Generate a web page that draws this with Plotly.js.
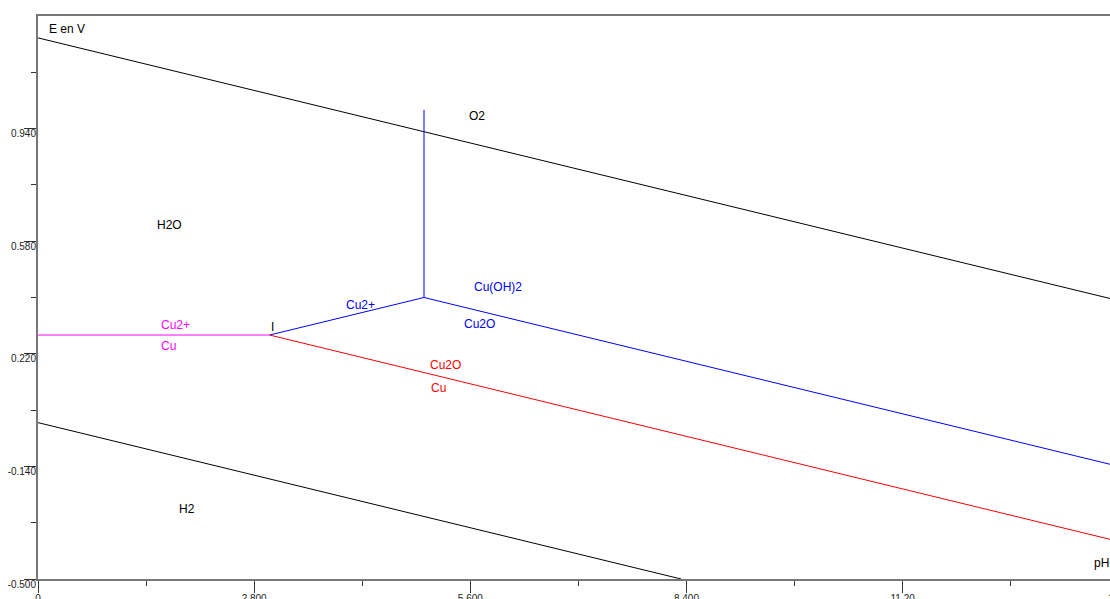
<!DOCTYPE html>
<html>
<head>
<meta charset="utf-8">
<script src="https://cdn.plot.ly/plotly-3.0.1.min.js"></script>
<style>html,body{margin:0;padding:0;background:#fff;}#chart{width:1110px;height:599px;}</style>
</head>
<body>
<div id="chart"></div>
<script>
// Boundary lines of the Pourbaix (E-pH) diagram of copper
const phO2 = [0, 14];            const eO2 = [1.23, 0.39];        // O2 / H2O
const phH2 = [0, 8.33];          const eH2 = [0.0, -0.5];         // H2O / H2
const phCu2Cu = [0, 3.0];        const eCu2Cu = [0.28, 0.28];     // Cu2+ / Cu
const phCu2Cu2O = [3.0, 5.0];    const eCu2Cu2O = [0.28, 0.40];   // Cu2+ / Cu2O
const phCu2CuOH = [5.0, 5.0];    const eCu2CuOH = [0.40, 1.00];   // Cu2+ / Cu(OH)2
const phCuOHCu2O = [5.0, 14];    const eCuOHCu2O = [0.40, -0.14]; // Cu(OH)2 / Cu2O
const phCu2OCu = [3.0, 14];      const eCu2OCu = [0.28, -0.38];   // Cu2O / Cu

const xMajorVals = [0, 2.8, 5.6, 8.4, 11.2, 14];
const xMajorText = ["0", "2.800", "5.600", "8.400", "11.20", "14"];
const xMinorVals = [1.4, 4.2, 7.0, 9.8, 12.6];
const yMajorVals = [-0.5, -0.14, 0.22, 0.58, 0.94];
const yMajorText = ["-0.500", "-0.140", "0.220", "0.580", "0.940"];
const yMinorVals = [-0.32, 0.04, 0.40, 0.76, 1.12];

function line(x, y, color) {
  return {x: x, y: y, type: 'scatter', mode: 'lines',
          line: {color: color, width: 1}, hoverinfo: 'skip', showlegend: false};
}

const traces = [
  line(phO2, eO2, '#000000'),
  line(phH2, eH2, '#000000'),
  line(phCu2Cu, eCu2Cu, '#ff00ff'),
  line(phCu2Cu2O, eCu2Cu2O, '#0000ff'),
  line(phCu2CuOH, eCu2CuOH, '#0000ff'),
  line(phCuOHCu2O, eCuOHCu2O, '#0000ff'),
  line(phCu2OCu, eCu2OCu, '#ff0000')
];

const F = 'Liberation Sans, Arial, sans-serif';
function lab(text, x, y, color) {
  return {text: text, x: x, y: y, xref: 'x', yref: 'y', showarrow: false,
          xanchor: 'center', yanchor: 'middle',
          font: {family: F, size: 12, color: color}};
}

const annotations = [
  lab('O2', 5.69, 0.981, '#000000'),
  lab('H2O', 1.70, 0.631, '#000000'),
  lab('Cu(OH)2', 5.96, 0.433, '#0000ff'),
  lab('Cu2+', 4.175, 0.375, '#0000ff'),
  lab('Cu2O', 5.716, 0.314, '#0000ff'),
  lab('Cu2+', 1.778, 0.311, '#ff00ff'),
  lab('Cu', 1.688, 0.244, '#ff00ff'),
  lab('I', 3.04, 0.305, '#000000'),
  lab('Cu2O', 5.276, 0.183, '#ff0000'),
  lab('Cu', 5.185, 0.112, '#ff0000'),
  lab('H2', 1.934, -0.276, '#000000'),
  lab('E en V', 0.38, 1.26, '#000000'),
  lab('pH', 13.77, -0.448, '#000000'),
  // last x tick label (14), lying mostly past the right edge of the window
  {text: xMajorText[5], xref: 'paper', yref: 'paper', x: 0.9965, y: -0.0345,
   xanchor: 'left', yanchor: 'middle', showarrow: false,
   font: {family: F, size: 10, color: '#222'}}
];

const layout = {
  width: 1110, height: 599, autosize: false,
  margin: {l: 38, r: 0, t: 16, b: 20, pad: 0},
  paper_bgcolor: '#ffffff', plot_bgcolor: '#ffffff',
  font: {family: F, size: 10, color: '#222'},
  xaxis: {
    range: [0, 13.886], showgrid: false, zeroline: false,
    showline: true, linecolor: '#777', linewidth: 2, mirror: true,
    tickmode: 'array', tickvals: xMajorVals, ticktext: xMajorText,
    ticks: 'outside', ticklen: 12, tickwidth: 1, tickcolor: '#333',
    ticklabelstandoff: -3,
    tickfont: {family: F, size: 10, color: '#222'},
    minor: {tickvals: xMinorVals, ticks: 'outside', ticklen: 5, tickwidth: 1, tickcolor: '#333'}
  },
  yaxis: {
    range: [-0.5, 1.3], showgrid: false, zeroline: false,
    showline: true, linecolor: '#777', linewidth: 2, mirror: false,
    tickmode: 'array', tickvals: yMajorVals, ticktext: yMajorText,
    ticks: 'outside', ticklen: 12, tickwidth: 1, tickcolor: '#333',
    ticklabelstandoff: -14, ticklabelshift: 5,
    tickfont: {family: F, size: 10, color: '#222'},
    minor: {tickvals: yMinorVals, ticks: 'outside', ticklen: 5, tickwidth: 1, tickcolor: '#333'}
  },
  annotations: annotations
};

Plotly.newPlot('chart', traces, layout, {displayModeBar: false, staticPlot: true});
</script>
</body>
</html>
